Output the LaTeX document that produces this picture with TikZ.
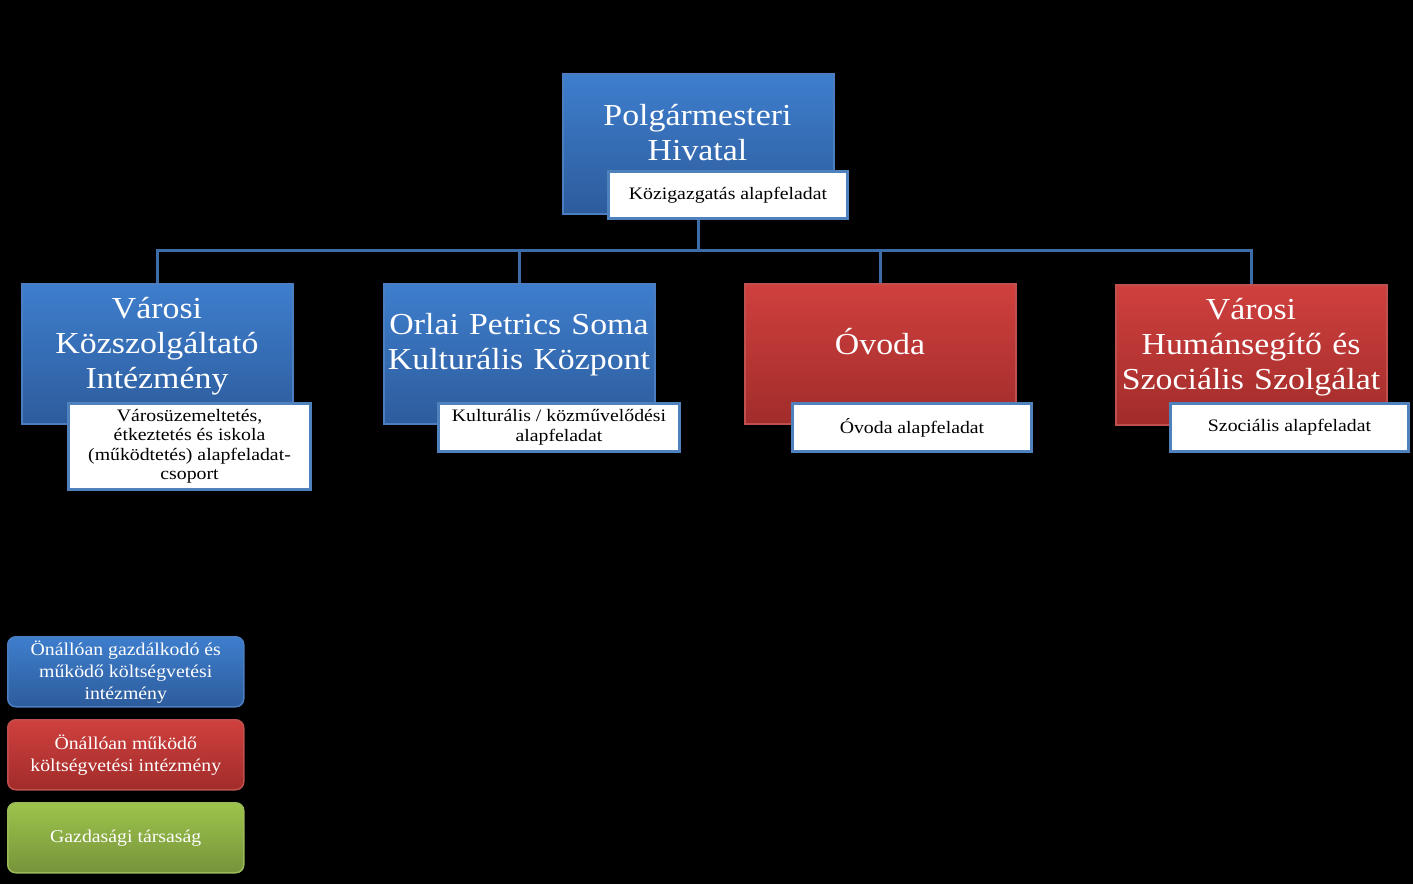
\documentclass[tikz,border=0pt]{standalone}
\usepackage{fontspec}
\setmainfont{Liberation Serif}
\usetikzlibrary{positioning,calc}
\definecolor{bluetop}{HTML}{3E7ECD}
\definecolor{bluebot}{HTML}{2D5C9C}
\definecolor{blueedge}{HTML}{4A7EC0}
\definecolor{redtop}{HTML}{CF403E}
\definecolor{redbot}{HTML}{A12C2A}
\definecolor{rededge}{HTML}{C0504D}
\definecolor{greentop}{HTML}{9DC44C}
\definecolor{greenbot}{HTML}{76933A}
\definecolor{greenedge}{HTML}{9BBB59}
\definecolor{subedge}{HTML}{4F81BD}
\definecolor{linecol}{HTML}{3D6DA8}
\tikzset{
  bluebox/.style={draw=blueedge, line width=1.5pt, top color=bluetop, bottom color=bluebot, minimum width=271pt, minimum height=140pt, anchor=north west, inner sep=0pt},
  redbox/.style={draw=rededge, line width=1.5pt, top color=redtop, bottom color=redbot, minimum width=271pt, minimum height=140pt, anchor=north west, inner sep=0pt},
  boxtext/.style={text=white, font=\fontsize{30.5}{35}\selectfont\addfontfeature{FakeStretch=1.11}, align=center, text width=300pt, inner sep=0pt},
  subbox/.style={draw=subedge, line width=3pt, fill=white, anchor=north west, inner sep=0pt, align=center, font=\fontsize{17.5}{19.5}\selectfont\addfontfeature{FakeStretch=1.13}},
  legbox/.style={rounded corners=8pt, line width=1.5pt, minimum width=236pt, minimum height=70pt, anchor=north west, inner sep=0pt, text=white, align=center, font=\fontsize{18}{22}\selectfont\addfontfeature{FakeStretch=1.1}},
  conn/.style={draw=linecol, line width=3pt}
}
\begin{document}
\begin{tikzpicture}[x=1pt,y=-1pt]
\useasboundingbox[fill=black] (0,0) rectangle (1413,884);
% top
\node[bluebox] (top) at (562,73) {};
\node[boxtext] (toptext) at (697.5,133) {Polgármesteri\\Hivatal};
\node[subbox, minimum width=239pt, minimum height=47pt] (s0) at (607,170) {Közigazgatás alapfeladat};
% children
\node[bluebox] (b1) at (21,283) {};
\node[boxtext] (b1text) at (157,346) {Városi\\Közszolgáltató\\Intézmény};
\node[subbox, minimum width=242pt, minimum height=86pt] (s1) at (67,402) {Városüzemeltetés,\\étkeztetés és iskola\\(működtetés) alapfeladat-\\csoport};
\node[bluebox] (b2) at (383,283) {};
\node[boxtext] (b2text) at (519,345) {Orlai Petrics Soma\\Kulturális Központ};
\node[subbox, minimum width=241pt, minimum height=48pt] (s2) at (437,402) {Kulturális / közművelődési\\alapfeladat};
\node[redbox] (b3) at (744,283) {};
\node[boxtext] (b3text) at (880,342) {Óvoda};
\node[subbox, minimum width=239pt, minimum height=48pt] (s3) at (791,402) {Óvoda alapfeladat};
\node[redbox] (b4) at (1115,284) {};
\node[boxtext] (b4text) at (1251,347) {Városi\\Humánsegítő és\\Szociális Szolgálat};
\node[subbox, minimum width=238pt, minimum height=48pt] (s4) at (1169,402) {Szociális alapfeladat};
% connectors
\coordinate (bus) at (0,250);
\draw[conn] (top.center |- s0.south) -- (top.center |- bus);
\foreach \b in {b1,b2,b3,b4} {
  \draw[conn] (top.center |- bus) -| (\b.north);
}
% legend
\node[legbox, draw=blueedge, top color=bluetop, bottom color=bluebot] (l1) at (7,636) {Önállóan gazdálkodó és\\működő költségvetési\\intézmény};
\node[legbox, draw=rededge, top color=redtop, bottom color=redbot] (l2) at (7,719) {Önállóan működő\\költségvetési intézmény};
\node[legbox, draw=greenedge, top color=greentop, bottom color=greenbot] (l3) at (7,802) {Gazdasági társaság};
\end{tikzpicture}
\end{document}
